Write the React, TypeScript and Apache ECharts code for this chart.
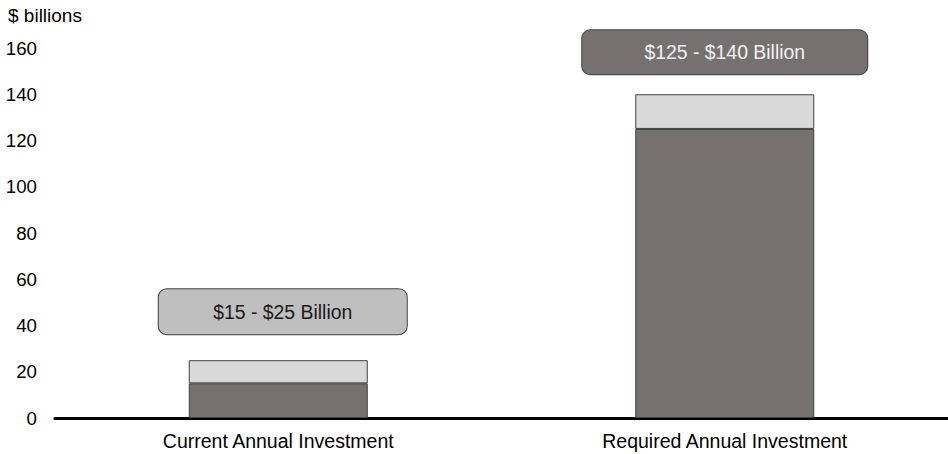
import React, { useEffect, useRef } from "react";
import * as echarts from "echarts";

// Annual investment ranges, $ billions
const categories = ["Current Annual Investment", "Required Annual Investment"];
const lowEstimate = [15, 125];
const highEstimate = [25, 140];
const yTicks = { min: 0, max: 160, interval: 20 };

const FONT = 'Arial, "Liberation Sans", sans-serif';
const DARK = "#767171";
const LIGHT = "#d9d9d9";
const EDGE = "#404040";

export default function App() {
  const ref = useRef<HTMLDivElement>(null);

  useEffect(() => {
    if (!ref.current) return;
    const chart = echarts.init(ref.current, undefined, { renderer: "svg" });

    const rangeLabel = (i: number) => `$${lowEstimate[i]} - $${highEstimate[i]} Billion`;
    const labelStyles = [
      { backgroundColor: "#bfbfbf", color: "#1a1a1a", distance: 26, offset: [4.5, 0], width: 248, pad: [12, 0, 12, 0] },
      { backgroundColor: DARK, color: "#f2f2f2", distance: 20, offset: [0, 0], width: 285, pad: [11, 0, 12, 0] },
    ];

    chart.setOption({
      animation: false,
      grid: { left: 55, right: 0, top: 48, bottom: 36, containLabel: false },
      graphic: [
        {
          type: "text",
          left: 8,
          top: 6,
          style: { text: "$ billions", font: `19px ${FONT}`, fill: "#000" },
        },
      ],
      xAxis: {
        type: "category",
        data: categories,
        axisLine: { lineStyle: { color: "#000", width: 3 } },
        axisTick: { show: false },
        axisLabel: { color: "#000", fontSize: 19.5, fontFamily: FONT, margin: 13 },
      },
      yAxis: {
        type: "value",
        min: yTicks.min,
        max: yTicks.max,
        interval: yTicks.interval,
        axisLine: { show: false },
        axisTick: { show: false },
        splitLine: { show: false },
        axisLabel: { color: "#000", fontSize: 18.7, fontFamily: FONT, margin: 18 },
      },
      series: [
        {
          name: "Low estimate",
          type: "bar",
          stack: "total",
          barWidth: 179,
          data: lowEstimate,
          itemStyle: { color: DARK, borderColor: EDGE, borderWidth: 1 },
        },
        {
          name: "Range",
          type: "bar",
          stack: "total",
          barWidth: 179,
          data: highEstimate.map((h, i) => ({
            value: h - lowEstimate[i],
            label: {
              show: true,
              position: "top",
              distance: labelStyles[i].distance,
              offset: labelStyles[i].offset,
              formatter: () => rangeLabel(i),
              backgroundColor: labelStyles[i].backgroundColor,
              color: labelStyles[i].color,
              borderColor: EDGE,
              borderWidth: 1,
              borderRadius: 8,
              width: labelStyles[i].width,
              align: "center",
              padding: labelStyles[i].pad,
              lineHeight: 21,
              fontSize: 19.4,
              fontFamily: FONT,
            },
          })),
          itemStyle: { color: LIGHT, borderColor: EDGE, borderWidth: 1 },
        },
      ],
    });

    return () => chart.dispose();
  }, []);

  return (
    <div
      ref={ref}
      style={{ position: "fixed", left: 0, top: 0, width: 948, height: 454, background: "#fff" }}
    />
  );
}
